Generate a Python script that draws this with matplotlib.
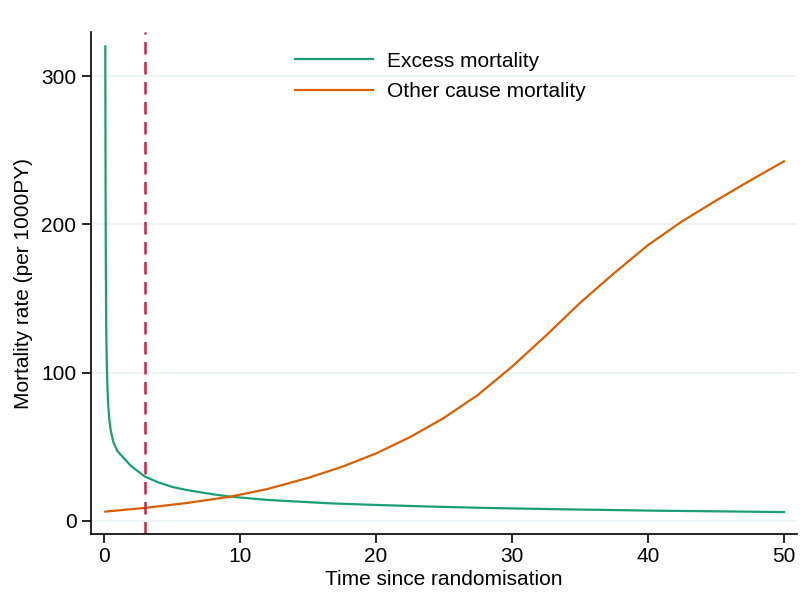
import matplotlib
matplotlib.use("Agg")
import matplotlib.pyplot as plt
import numpy as np

plt.rcParams['font.family'] = ['Liberation Sans', 'DejaVu Sans']

# Excess mortality (per 1000PY) vs time since randomisation
t_excess = [0.1, 0.11, 0.12, 0.14, 0.17, 0.2, 0.25, 0.3, 0.4, 0.5, 0.7, 1.0, 1.5, 2.0,
            3.0, 4.0, 5.0, 6.0, 8.0, 9.3, 12.0, 16.6, 20.0, 24.0, 28.0, 33.5, 40.0, 45.0, 50.0]
excess = [320, 270, 228, 170, 130, 110, 92, 80, 68, 61, 53, 47, 42, 37,
          30, 26, 23, 21, 18, 16.4, 14.2, 11.9, 10.8, 9.7, 8.8, 7.9, 7.0, 6.5, 6.0]

# Other cause mortality
t_other = [0.1, 3.0, 6.0, 9.3, 12.0, 15.0, 17.5, 20.0, 22.5, 25.0, 27.5, 30.0,
           32.5, 35.0, 37.5, 40.0, 42.5, 45.0, 47.5, 50.0]
other = [6.3, 8.8, 12, 16.4, 21.5, 29, 36.5, 45.5, 56.5, 69.5, 85, 104,
         125, 147, 167, 186, 202, 216, 229.5, 242.5]

cutoff = 3.0

GREEN = '#1b9e77'
ORANGE = '#d95f02'
RED = '#c8254a'

fig = plt.figure(figsize=(8.09, 6.11), dpi=100)
ax = fig.add_axes([0.1125, 0.126, 0.8725, 0.8216])

for yv in [0, 100, 200, 300]:
    ax.axhline(yv, color='#eaf2f3', lw=1.2, zorder=0)

ax.plot(t_excess, excess, color=GREEN, lw=1.6, label='Excess mortality')
ax.plot(t_other, other, color=ORANGE, lw=1.6, label='Other cause mortality')
ax.axvline(cutoff, color=RED, lw=1.8, ls=(0, (5, 3)))

ax.set_xlim(-0.95, 50.95)
ax.set_ylim(-8.8, 329.7)
ax.set_xticks([0, 10, 20, 30, 40, 50])
ax.set_yticks([0, 100, 200, 300])
ax.tick_params(labelsize=15, length=6.5, width=1.2, direction='out', pad=4)
ax.tick_params(axis='x', pad=2.5)

for side in ['top', 'right']:
    ax.spines[side].set_visible(False)
for side in ['left', 'bottom']:
    ax.spines[side].set_linewidth(1.2)

ax.set_xlabel('Time since randomisation', fontsize=15, labelpad=3.5)
ax.set_ylabel('Mortality rate (per 1000PY)', fontsize=15, labelpad=6)

ax.legend(loc='upper left', bbox_to_anchor=(0.2625, 0.998), frameon=False,
          fontsize=15, handlelength=3.75, handletextpad=0.67, labelspacing=0.55)

plt.savefig('out.png', dpi=100)
plt.close()
